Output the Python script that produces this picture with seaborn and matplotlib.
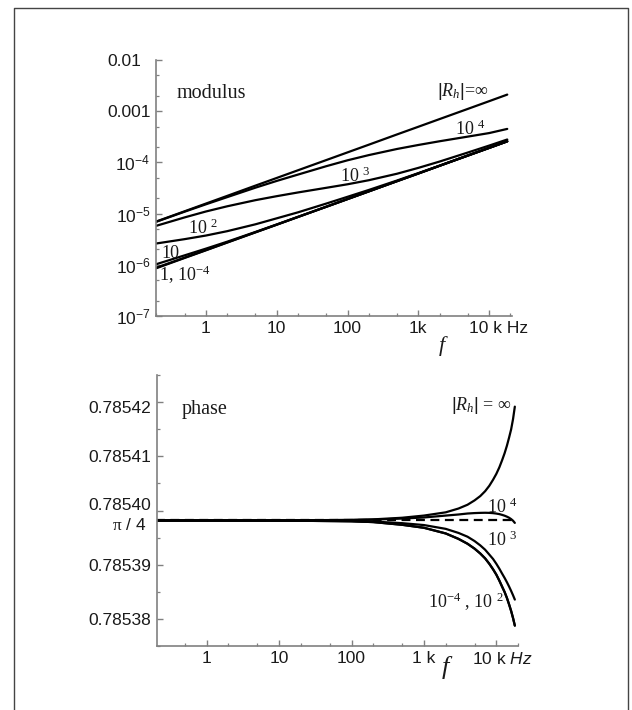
import numpy as np
import pandas as pd
import matplotlib
matplotlib.use("Agg")
import matplotlib.pyplot as plt
import matplotlib.ticker as mticker
from matplotlib.transforms import ScaledTranslation
from matplotlib.lines import Line2D
import seaborn as sns

# ---------------- data ----------------
# modulus panel
F_MOD = [0.2, 0.5, 1, 2, 5, 10, 20, 50, 100, 200, 500, 1000, 2000, 5000, 10000, 18000]
MOD_RH_INF = [7.03e-6, 1.11e-5, 1.57e-5, 2.22e-5, 3.52e-5, 4.97e-5, 7.03e-5, 1.11e-4,
              1.57e-4, 2.22e-4, 3.52e-4, 4.97e-4, 7.03e-4, 1.11e-3, 1.57e-3, 2.11e-3]
MOD_RH_1E4 = [6.95e-6, 1.09e-5, 1.52e-5, 2.10e-5, 3.21e-5, 4.35e-5, 5.79e-5, 8.43e-5,
              1.10e-4, 1.39e-4, 1.83e-4, 2.19e-4, 2.59e-4, 3.19e-4, 3.74e-4, 4.51e-4]
MOD_RH_1E3 = [5.79e-6, 8.43e-6, 1.10e-5, 1.39e-5, 1.83e-5, 2.19e-5, 2.59e-5, 3.19e-5,
              3.74e-5, 4.49e-5, 6.01e-5, 7.82e-5, 1.04e-4, 1.56e-4, 2.13e-4, 2.80e-4]
MOD_RH_1E2 = [2.61e-6, 3.17e-6, 3.73e-6, 4.54e-6, 6.18e-6, 8.09e-6, 1.06e-5, 1.57e-5,
              2.13e-5, 2.90e-5, 4.43e-5, 6.18e-5, 8.65e-5, 1.37e-4, 1.93e-4, 2.58e-4]
MOD_RH_10 = [1.03e-6, 1.53e-6, 2.07e-6, 2.83e-6, 4.38e-6, 6.14e-6, 8.65e-6, 1.36e-5,
             1.93e-5, 2.72e-5, 4.31e-5, 6.08e-5, 8.61e-5, 1.36e-4, 1.92e-4, 2.58e-4]
MOD_RH_1 = [8.8e-7, 1.38e-6, 1.94e-6, 2.74e-6, 4.32e-6, 6.09e-6, 8.62e-6, 1.36e-5,
            1.92e-5, 2.72e-5, 4.30e-5, 6.07e-5, 8.60e-5, 1.36e-4, 1.92e-4, 2.58e-4]
MOD_RH_1EM4 = [8.6e-7, 1.36e-6, 1.92e-6, 2.72e-6, 4.30e-6, 6.07e-6, 8.60e-6, 1.36e-5,
               1.92e-5, 2.72e-5, 4.30e-5, 6.07e-5, 8.60e-5, 1.36e-4, 1.92e-4, 2.58e-4]

# phase panel: offset from pi/4, in micro-radians
F_PH = [0.2, 1, 10, 100, 200, 500, 1000, 2000, 3000, 4000, 5000, 6000, 7000, 8000,
        9000, 10000, 11000, 12000, 13000, 14000, 15000, 16000, 17000, 18000]
PH_RH_INF = [0, 0, 0.01, 0.1, 0.2, 0.5, 0.9, 1.5, 2.2, 2.9, 3.7, 4.5, 5.4, 6.4,
             7.5, 8.6, 9.8, 11.1, 12.4, 13.8, 15.3, 16.8, 18.7, 21.0]
PH_RH_1E4 = [0, 0, 0.01, 0.08, 0.15, 0.35, 0.55, 0.9, 1.1, 1.28, 1.36, 1.4, 1.42, 1.4,
             1.35, 1.27, 1.17, 1.03, 0.88, 0.7, 0.5, 0.25, -0.05, -0.45]
PH_RH_1E3 = [0, 0, -0.01, -0.1, -0.2, -0.5, -0.85, -1.55, -2.3, -3.0, -3.8, -4.6, -5.4, -6.3,
             -7.1, -8.0, -8.9, -9.8, -10.6, -11.4, -12.2, -13.0, -13.8, -14.6]
PH_RH_1E2 = [0, 0, -0.02, -0.15, -0.3, -0.8, -1.35, -2.4, -3.4, -4.3, -5.2, -6.1, -7.0, -8.0,
             -9.0, -10.0, -11.1, -12.2, -13.2, -14.3, -15.5, -16.7, -18.0, -19.4]
PH_RH_1EM4 = [0, 0, -0.02, -0.15, -0.3, -0.8, -1.35, -2.4, -3.4, -4.3, -5.2, -6.1, -7.0, -8.0,
              -9.0, -10.0, -11.1, -12.2, -13.2, -14.3, -15.5, -16.7, -18.0, -19.4]
PI4 = np.pi / 4

MOD_TICKS = [1e-7, 1e-6, 1e-5, 1e-4, 1e-3, 1e-2]
MOD_TICKLABELS = [r"$\mathrm{10^{-7}}$", r"$\mathrm{10^{-6}}$", r"$\mathrm{10^{-5}}$",
                  r"$\mathrm{10^{-4}}$", "0.001", "0.01"]
PH_TICKS = [0.78538, 0.78539, 0.78540, 0.78541, 0.78542]
PH_TICKLABELS = ["0.78538", "0.78539", "0.78540", "0.78541", "0.78542"]
F_TICKS = [1, 10, 100, 1000, 10000]
F_TICKLABELS_TOP = ["1", "10", "100", "1k", "10 k Hz"]
F_TICKLABELS_BOT = ["1", "10", "100", "1 k", r"10 k $\mathsf{Hz}$"]

# ---------------- style ----------------
sns.set_theme(style="white")
plt.rcParams["font.family"] = ["Liberation Sans", "DejaVu Sans"]
plt.rcParams["mathtext.fontset"] = "custom"
plt.rcParams["mathtext.rm"] = "Liberation Sans"
plt.rcParams["mathtext.it"] = "Liberation Serif:italic"
plt.rcParams["mathtext.tt"] = "Liberation Serif"
plt.rcParams["mathtext.sf"] = "Liberation Sans:italic"
plt.rcParams["mathtext.bf"] = "Liberation Serif:bold"

W, H = 632, 710
fig = plt.figure(figsize=(W / 100, H / 100), dpi=100)
fig.patch.set_facecolor("white")


def fx(px):
    return px / W


def fy(py):
    return 1 - py / H


ax1 = fig.add_axes([fx(156), fy(316), fx(511.7) - fx(156), fy(60) - fy(316)])
ax2 = fig.add_axes([fx(156.7), fy(646), fx(518.3) - fx(156.7), fy(375) - fy(646)])

SPINE = "#808080"
TXT = "#1a1a1a"
LW = 1.6

# ---------------- modulus ----------------
ax1.set_xscale("log")
ax1.set_yscale("log")
mod_series = {"inf": MOD_RH_INF, "1e4": MOD_RH_1E4, "1e3": MOD_RH_1E3, "1e2": MOD_RH_1E2,
              "10": MOD_RH_10, "1": MOD_RH_1, "1e-4": MOD_RH_1EM4}
df_mod = pd.concat([pd.DataFrame({"f": F_MOD, "mod": v, "Rh": k}) for k, v in mod_series.items()])
sns.lineplot(data=df_mod, x="f", y="mod", units="Rh", estimator=None, sort=False,
             color="black", lw=LW, legend=False, ax=ax1)
ax1.set_xlim(0.197, 20800)
ax1.set_ylim(1e-7, 1e-2)

# ---------------- phase ----------------
ax2.set_xscale("log")
ph_series = {"inf": PH_RH_INF, "1e4": PH_RH_1E4, "1e3": PH_RH_1E3,
             "1e2": PH_RH_1E2, "1e-4": PH_RH_1EM4}
df_ph = pd.concat([pd.DataFrame({"f": F_PH, "phase": PI4 + np.array(v) * 1e-6, "Rh": k})
                   for k, v in ph_series.items()])
sns.lineplot(x=F_PH, y=[PI4] * len(F_PH), color="black", lw=LW, ls=(0, (4, 2.5)),
             legend=False, ax=ax2, zorder=1)
sns.lineplot(data=df_ph, x="f", y="phase", units="Rh", estimator=None, sort=False,
             color="black", lw=LW, legend=False, ax=ax2, zorder=2)
ax2.set_xlim(0.204, 20100)
ax2.set_ylim(0.785375, 0.785425)

for ax in (ax1, ax2):
    ax.set_xlabel("")
    ax.set_ylabel("")
    ax.grid(False)
    ax.set_facecolor("white")
    for s in ("top", "right"):
        ax.spines[s].set_visible(False)
    for s in ("left", "bottom"):
        ax.spines[s].set_color(SPINE)
        ax.spines[s].set_linewidth(1.2)
    ax.tick_params(which="both", direction="in", color=SPINE, labelcolor=TXT,
                   labelsize=12.5, top=False, right=False, left=True, bottom=True)
    ax.tick_params(which="major", length=4, width=1)
    ax.tick_params(which="minor", length=2.5, width=0.9)
    ax.tick_params(axis="x", pad=3.5)
    ax.tick_params(axis="y", pad=4)
    ax.xaxis.set_major_locator(mticker.FixedLocator(F_TICKS))
    ax.xaxis.set_minor_locator(mticker.LogLocator(base=10, subs=(2.0, 5.0), numticks=30))
    ax.xaxis.set_minor_formatter(mticker.NullFormatter())

ax1.set_xticks(F_TICKS, F_TICKLABELS_TOP)
ax2.set_xticks(F_TICKS, F_TICKLABELS_BOT)
ax1.set_yticks(MOD_TICKS, MOD_TICKLABELS)
ax1.yaxis.set_minor_locator(mticker.LogLocator(base=10, subs=(2.0, 5.0), numticks=30))
ax1.yaxis.set_minor_formatter(mticker.NullFormatter())
ax2.set_yticks(PH_TICKS, PH_TICKLABELS)
ax2.yaxis.set_minor_locator(mticker.MultipleLocator(0.000005))
ax2.yaxis.set_minor_formatter(mticker.NullFormatter())


def shift(lbl, dx=0, dy=0):
    lbl.set_transform(lbl.get_transform() + ScaledTranslation(dx / 100, -dy / 100, fig.dpi_scale_trans))


lab = ax1.get_xticklabels()[-1]
lab.set_ha("left")
shift(lab, dx=-20)
lab = ax2.get_xticklabels()[-1]
lab.set_ha("left")
shift(lab, dx=-24)
shift(ax1.get_yticklabels()[-1], dx=-9)
shift(ax2.get_yticklabels()[2], dy=-7)
shift(ax2.get_yticklabels()[4], dy=5)

SERIF = "Liberation Serif"
# panel titles
fig.text(fx(176.7), fy(97.5), "modulus", family=SERIF, size=14.5, color=TXT, va="baseline")
fig.text(fx(181.7), fy(414.3), "phase", family=SERIF, size=14.5, color=TXT, va="baseline")

# modulus curve labels
fig.text(fx(488.3), fy(96.5), r"$|R_h|$=∞", family=SERIF, size=13, color=TXT,
         ha="right", va="baseline")
fig.text(fx(455), fy(135), r"10 $^{\mathtt{4}}$", family=SERIF, size=13, color=TXT, va="baseline")
fig.text(fx(340), fy(181.7), r"10 $^{\mathtt{3}}$", family=SERIF, size=13, color=TXT, va="baseline")
fig.text(fx(188), fy(234.3), r"10 $^{\mathtt{2}}$", family=SERIF, size=13, color=TXT, va="baseline")
fig.text(fx(161.7), fy(257.7), "10", family=SERIF, size=13, color=TXT, va="baseline")
fig.text(fx(159.3), fy(280.7), r"1, 10$^{\mathtt{-4}}$", family=SERIF, size=13, color=TXT, va="baseline")

# phase curve labels
fig.text(fx(511.7), fy(410), r"$|R_h|$ = ∞", family=SERIF, size=13, color=TXT,
         ha="right", va="baseline")
fig.text(fx(486.7), fy(512.7), r"10 $^{\mathtt{4}}$", family=SERIF, size=13, color=TXT, va="baseline")
fig.text(fx(486.7), fy(546), r"10 $^{\mathtt{3}}$", family=SERIF, size=13, color=TXT, va="baseline")
fig.text(fx(428.3), fy(608.3), r"10$^{\mathtt{-4}}$ , 10 $^{\mathtt{2}}$", family=SERIF, size=13,
         color=TXT, va="baseline")

# pi/4 label on the phase axis
fig.text(fx(146.7), fy(525), r"$\mathtt{π}$ / 4", size=12.5, color=TXT, ha="right", va="center")

# axis variable f
fig.text(fx(443.5), fy(346.5), r"$f$", size=16, color=TXT, ha="center", va="center")
fig.text(fx(446.7), fy(667.5), r"$f$", size=19, color=TXT, ha="center", va="center")

# outer frame (open at the bottom)
fig.add_artist(Line2D([fx(14), fx(14), fx(628), fx(628)], [0, fy(8), fy(8), 0],
                      transform=fig.transFigure, color="#444444", lw=1.0))

fig.savefig("out.png", dpi=100, facecolor="white")
